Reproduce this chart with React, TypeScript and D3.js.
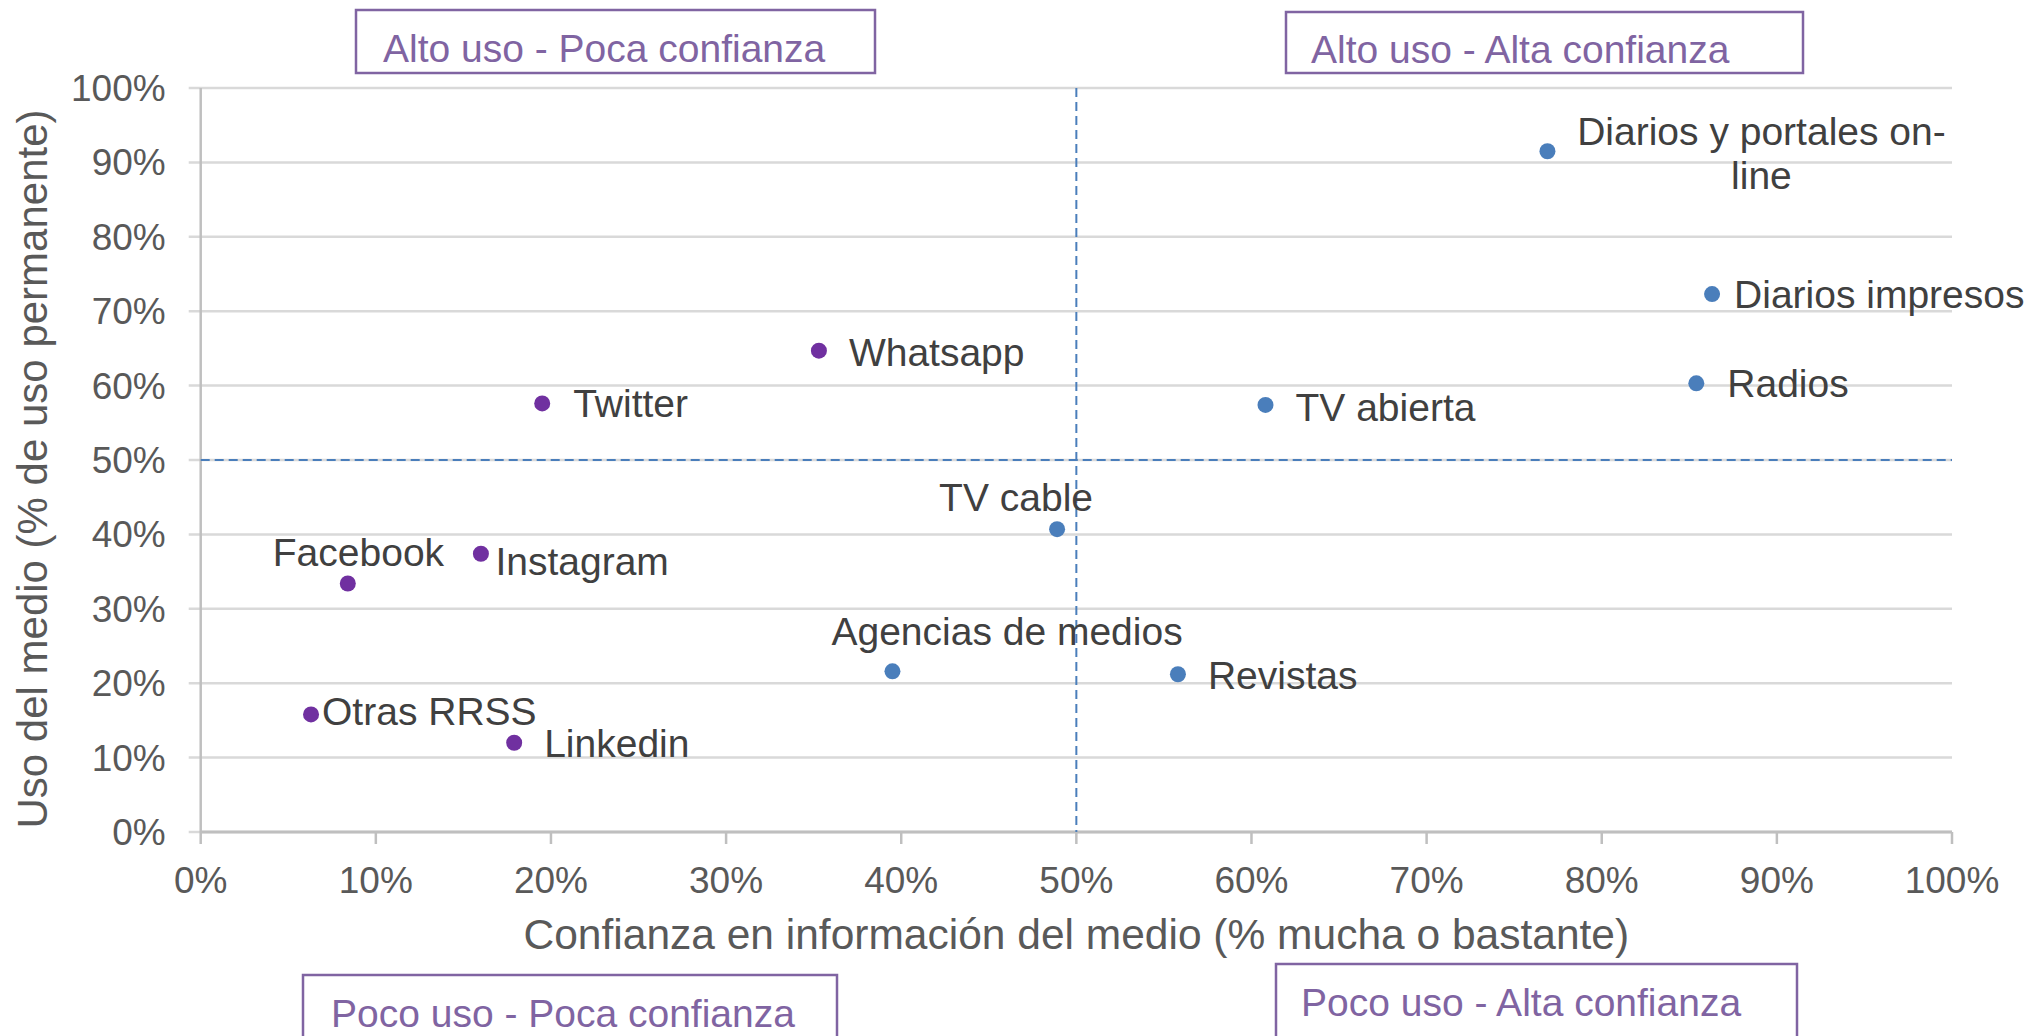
import React from "react";
import * as d3 from "d3";

const medios = [
  "Diarios y portales on-line",
  "Diarios impresos",
  "Radios",
  "TV abierta",
  "TV cable",
  "Revistas",
  "Agencias de medios",
  "Whatsapp",
  "Twitter",
  "Instagram",
  "Facebook",
  "Otras RRSS",
  "Linkedin",
];
const confianza = [76.9, 86.3, 85.4, 60.8, 48.9, 55.8, 39.5, 35.3, 19.5, 16.0, 8.4, 6.3, 17.9];
const uso = [91.5, 72.3, 60.3, 57.4, 40.7, 21.2, 21.6, 64.7, 57.6, 37.4, 33.4, 15.8, 12.0];
const tipo = ["trad", "trad", "trad", "trad", "trad", "trad", "trad", "rrss", "rrss", "rrss", "rrss", "rrss", "rrss"];
const xTicks = [0, 10, 20, 30, 40, 50, 60, 70, 80, 90, 100];
const yTicks = [0, 10, 20, 30, 40, 50, 60, 70, 80, 90, 100];
const quadrantLabels = [
  "Alto uso - Poca confianza",
  "Alto uso - Alta confianza",
  "Poco uso - Poca confianza",
  "Poco uso - Alta confianza",
];

// label layout (offsets from point, px)
const labelDx = [214, 22, 31, 30, -118, 30, -61, 30, 31, 14.5, -75, 11, 30];
const labelDy = [-6.5, 14, 14, 16, -18, 14.5, -26, 15, 14, 21, -18, 10.5, 14];
const labelAnchor = ["middle", "start", "start", "start", "start", "start", "start", "start", "start", "start", "start", "start", "start"];
const quadBoxes = [
  { x: 356, y: 10, w: 519, h: 63, tx: 383, ty: 62 },
  { x: 1286, y: 12, w: 517, h: 61, tx: 1311, ty: 63 },
  { x: 303, y: 975, w: 534, h: 80, tx: 331, ty: 1027 },
  { x: 1276, y: 964, w: 521, h: 90, tx: 1301, ty: 1016 },
];

const W = 2030;
const H = 1036;
const FONT = "'Liberation Sans', Arial, Helvetica, sans-serif";
const BLUE = "#4A7EBB";
const PURPLE = "#7030A0";
const QCOL = "#8064A2";

export default function App() {
  React.useEffect(() => {
    document.body.style.margin = "0";
  }, []);

  const x = d3.scaleLinear().domain([0, 100]).range([200.7, 1952]);
  const y = d3.scaleLinear().domain([0, 100]).range([832, 88]);
  const fmt = (v: number) => `${v}%`;

  return (
    <svg width={W} height={H} style={{ display: "block", background: "#fff" }} fontFamily={FONT}>
      {/* gridlines */}
      {yTicks.map((t) => (
        <line key={"g" + t} x1={x(0) - 12} x2={x(100)} y1={y(t)} y2={y(t)} stroke="#d9d9d9" strokeWidth={2.5} />
      ))}
      {/* y axis line */}
      <line x1={x(0)} x2={x(0)} y1={y(100)} y2={y(0)} stroke="#bfbfbf" strokeWidth={2.5} />
      {/* x axis line */}
      <line x1={x(0)} x2={x(100)} y1={y(0)} y2={y(0)} stroke="#bfbfbf" strokeWidth={3} />
      {xTicks.map((t) => (
        <line key={"xt" + t} x1={x(t)} x2={x(t)} y1={y(0)} y2={y(0) + 12} stroke="#bfbfbf" strokeWidth={2.5} />
      ))}
      {/* dashed quadrant lines */}
      <line x1={x(0)} x2={x(100)} y1={y(50)} y2={y(50)} stroke={BLUE} strokeWidth={2} strokeDasharray="9,5" />
      <line x1={x(50)} x2={x(50)} y1={y(100)} y2={y(0)} stroke={BLUE} strokeWidth={2} strokeDasharray="9,5" />
      {/* tick labels */}
      {yTicks.map((t) => (
        <text key={"yl" + t} x={x(0) - 35} y={y(t) + 13} textAnchor="end" fontSize={37} fill="#595959">
          {fmt(t)}
        </text>
      ))}
      {xTicks.map((t) => (
        <text key={"xl" + t} x={x(t)} y={893} textAnchor="middle" fontSize={37} fill="#595959">
          {fmt(t)}
        </text>
      ))}
      {/* axis titles */}
      <text x={(x(0) + x(100)) / 2} y={949} textAnchor="middle" fontSize={42.5} fill="#595959">
        Confianza en información del medio (% mucha o bastante)
      </text>
      <text transform={`translate(47,${469}) rotate(-90)`} textAnchor="middle" fontSize={42} fill="#595959">
        Uso del medio (% de uso permanente)
      </text>
      {/* points */}
      {medios.map((m, i) => (
        <circle key={"p" + i} cx={x(confianza[i])} cy={y(uso[i])} r={8} fill={tipo[i] === "trad" ? BLUE : PURPLE} />
      ))}
      {/* data labels */}
      {medios.map((m, i) => {
        const px = x(confianza[i]) + labelDx[i];
        const py = y(uso[i]) + labelDy[i];
        if (i === 0) {
          return (
            <text key={"l" + i} x={px} y={py} textAnchor="middle" fontSize={39} fill="#404040">
              <tspan x={px} y={py}>Diarios y portales on-</tspan>
              <tspan x={px} y={py + 44}>line</tspan>
            </text>
          );
        }
        return (
          <text key={"l" + i} x={px} y={py} textAnchor={labelAnchor[i] as any} fontSize={39} fill="#404040">
            {m}
          </text>
        );
      })}
      {/* quadrant boxes */}
      {quadrantLabels.map((q, i) => {
        const b = quadBoxes[i];
        return (
          <g key={"q" + i}>
            <rect x={b.x} y={b.y} width={b.w} height={b.h} fill="#fff" stroke={QCOL} strokeWidth={2.5} />
            <text x={b.tx} y={b.ty} fontSize={39} fill={QCOL}>
              {q}
            </text>
          </g>
        );
      })}
    </svg>
  );
}
